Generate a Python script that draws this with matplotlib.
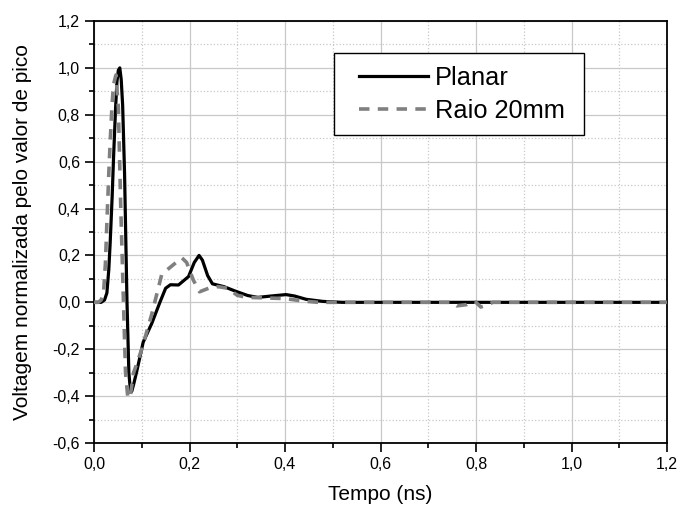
import matplotlib
matplotlib.use("Agg")
import matplotlib.pyplot as plt
from matplotlib.patches import Rectangle
from matplotlib.ticker import MultipleLocator, FuncFormatter

# values
planar_t = [0.0, 0.015, 0.022, 0.027, 0.031, 0.034, 0.038, 0.041, 0.045, 0.048, 0.051,
            0.054, 0.057, 0.060, 0.064, 0.069, 0.073, 0.076, 0.079, 0.083, 0.09,
            0.103, 0.121, 0.138, 0.150, 0.160, 0.177, 0.198, 0.210, 0.220, 0.227,
            0.238, 0.248, 0.272, 0.297, 0.322, 0.343, 0.371, 0.402, 0.42, 0.444,
            0.479, 0.52, 1.2]
planar_v = [0.0, 0.0, 0.01, 0.04, 0.14, 0.26, 0.45, 0.62, 0.82, 0.94, 0.99,
            1.0, 0.95, 0.84, 0.55, 0.01, -0.30, -0.37, -0.38, -0.35, -0.29,
            -0.17, -0.09, 0.0, 0.06, 0.075, 0.074, 0.11, 0.17, 0.20, 0.18,
            0.114, 0.079, 0.067, 0.047, 0.029, 0.021, 0.027, 0.033, 0.027, 0.013,
            0.004, 0.0, 0.0]

raio_t = [0.0, 0.009, 0.015, 0.02, 0.024, 0.027, 0.031, 0.034, 0.038, 0.041, 0.046,
          0.051, 0.056, 0.062, 0.066, 0.071, 0.076, 0.083, 0.10, 0.121, 0.142,
          0.16, 0.184, 0.194, 0.208, 0.221, 0.24, 0.26, 0.28, 0.30, 0.32, 0.34,
          0.37, 0.40, 0.44, 0.47, 0.75, 0.76, 0.78, 0.79, 0.80, 0.81, 0.825,
          0.835, 0.85, 1.2]
raio_v = [0.0, 0.0, 0.01, 0.04, 0.17, 0.34, 0.55, 0.69, 0.85, 0.93, 0.97,
          0.83, 0.41, -0.02, -0.30, -0.41, -0.40, -0.30, -0.20, -0.05, 0.12,
          0.15, 0.19, 0.17, 0.095, 0.045, 0.06, 0.067, 0.06, 0.03, 0.021, 0.02,
          0.018, 0.016, 0.005, 0.0, 0.0, -0.015, -0.01, 0.003, 0.0, -0.02, -0.01,
          0.0, 0.0, 0.0]

plt.rcParams['font.family'] = ['Liberation Sans', 'DejaVu Sans']

fig = plt.figure(figsize=(6.92, 5.09), dpi=100)
ax = fig.add_axes([94/692, 1 - 443/509, 573/692, 422/509])

ax.plot(planar_t, planar_v, color='black', lw=2.3, label='Planar', zorder=3)
ax.plot(raio_t, raio_v, color='#808080', lw=2.6, ls=(0, (2.9, 2.3)),
        label='Raio 20mm', zorder=4)

ax.set_xlim(0, 1.2)
ax.set_ylim(-0.6, 1.2)
ax.xaxis.set_major_locator(MultipleLocator(0.2))
ax.xaxis.set_minor_locator(MultipleLocator(0.1))
ax.yaxis.set_major_locator(MultipleLocator(0.2))
ax.yaxis.set_minor_locator(MultipleLocator(0.1))

fmt = FuncFormatter(lambda v, p: ('%.1f' % v).replace('.', ',').replace('-0,0', '0,0'))
ax.xaxis.set_major_formatter(fmt)
ax.yaxis.set_major_formatter(fmt)

ax.grid(which='major', color='#c8c8c8', lw=0.9, ls='-')
ax.grid(which='minor', color='#c8c8c8', lw=0.9, ls=':')
ax.set_axisbelow(True)

ax.tick_params(which='major', direction='out', length=6.5, width=1.2, labelsize=11.5,
               top=False, right=False)
ax.tick_params(which='minor', direction='out', length=3.5, width=1.2,
               top=False, right=False)
for s in ax.spines.values():
    s.set_linewidth(1.3)

ax.set_xlabel('Tempo (ns)', fontsize=15)
ax.set_ylabel('Voltagem normalizada pelo valor de pico', fontsize=15)
ax.xaxis.set_label_coords(0.5, -0.1)
ax.yaxis.set_label_coords(-0.108, 0.5)

# legend box drawn separately so its padding can match the reference
ax.add_patch(Rectangle((0.419, 0.730), 0.436, 0.194, transform=ax.transAxes,
                       facecolor='white', edgecolor='black', lw=1.0, zorder=5))
leg = ax.legend(loc='upper left', bbox_to_anchor=(0.4625, 0.893),
                borderaxespad=0, borderpad=0, fontsize=18.3, handlelength=2.7,
                handletextpad=0.3, labelspacing=0.34, frameon=False)
leg.set_zorder(6)

fig.savefig('out.png', dpi=100)
